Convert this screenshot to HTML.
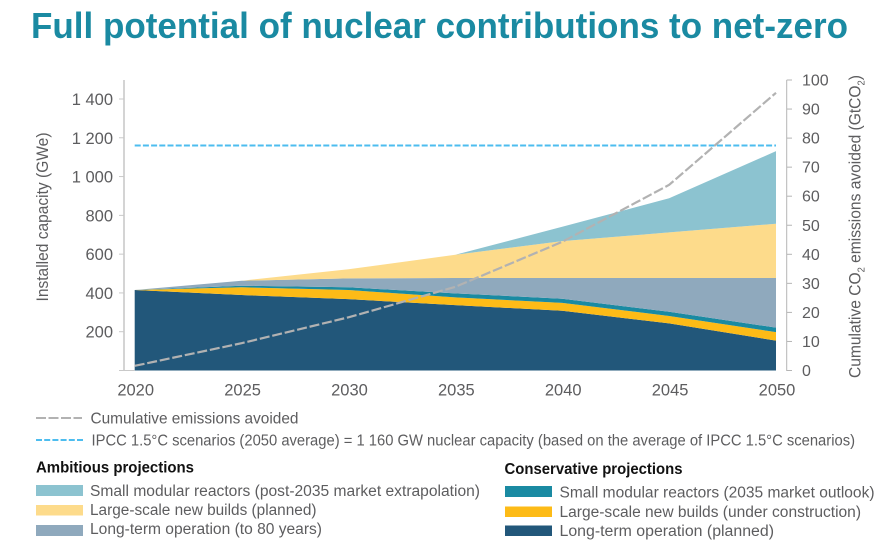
<!DOCTYPE html>
<html lang="en">
<head>
<meta charset="utf-8">
<title>Full potential of nuclear contributions to net-zero</title>
<style>
html,body{margin:0;padding:0;background:#fff;width:890px;height:554px;overflow:hidden}
svg{display:block}
text{font-family:"Liberation Sans",sans-serif;fill:#5d5d5f}
</style>
</head>
<body>
<svg id="chart" xmlns="http://www.w3.org/2000/svg" width="890" height="554" viewBox="0 0 890 554">
  <text x="31" y="38" font-size="36" font-weight="700" style="fill:#1a8aa2" textLength="817" lengthAdjust="spacingAndGlyphs">Full potential of nuclear contributions to net-zero</text>
  <g id="areas"></g>
  <g id="lines"></g>
  <g id="axes"></g>
  <text transform="translate(48,301.5) rotate(-90)" font-size="16.5" textLength="169" lengthAdjust="spacingAndGlyphs">Installed capacity (GWe)</text>
  <text transform="translate(860.5,378) rotate(-90)" font-size="16.5" textLength="303" lengthAdjust="spacingAndGlyphs">Cumulative CO<tspan font-size="10" dy="4">2</tspan><tspan dy="-4"> emissions avoided (GtCO</tspan><tspan font-size="10" dy="4">2</tspan><tspan dy="-4">)</tspan></text>

  <g font-size="15.5">
    <line x1="36" x2="82" y1="418" y2="418" stroke="#b2b2b2" stroke-width="2" stroke-dasharray="10 2.5"/>
    <text x="90.5" y="423.5" textLength="208" lengthAdjust="spacingAndGlyphs">Cumulative emissions avoided</text>
    <line x1="36" x2="83" y1="440" y2="440" stroke="#4dbdef" stroke-width="2" stroke-dasharray="6 2.2"/>
    <text x="91.5" y="445.5" textLength="763.5" lengthAdjust="spacingAndGlyphs">IPCC 1.5°C scenarios (2050 average) = 1 160 GW nuclear capacity (based on the average of IPCC 1.5°C scenarios)</text>

    <text x="36" y="472.5" font-weight="700" style="fill:#111" textLength="158" lengthAdjust="spacingAndGlyphs">Ambitious projections</text>
    <rect x="36" y="485" width="47" height="11" fill="#8cc3d0"/>
    <text x="90" y="496" textLength="390" lengthAdjust="spacingAndGlyphs">Small modular reactors (post-2035 market extrapolation)</text>
    <rect x="36" y="505" width="47" height="10.5" fill="#fddb8b"/>
    <text x="90" y="515" textLength="226.5" lengthAdjust="spacingAndGlyphs">Large-scale new builds (planned)</text>
    <rect x="36" y="525" width="47" height="11" fill="#8fa9bd"/>
    <text x="90" y="534" textLength="232" lengthAdjust="spacingAndGlyphs">Long-term operation (to 80 years)</text>

    <text x="504.5" y="474" font-weight="700" style="fill:#111" textLength="178" lengthAdjust="spacingAndGlyphs">Conservative projections</text>
    <rect x="505" y="486" width="47" height="11" fill="#1a8aa2"/>
    <text x="559.5" y="497.5" textLength="315" lengthAdjust="spacingAndGlyphs">Small modular reactors (2035 market outlook)</text>
    <rect x="505" y="506.5" width="47" height="10.5" fill="#fdbb17"/>
    <text x="559.5" y="517" textLength="301.5" lengthAdjust="spacingAndGlyphs">Large-scale new builds (under construction)</text>
    <rect x="505" y="525.5" width="47" height="10.5" fill="#22577a"/>
    <text x="559.5" y="536" textLength="214.5" lengthAdjust="spacingAndGlyphs">Long-term operation (planned)</text>
  </g>
</svg>
<script>
// Chart data (GWe for stacked layers, GtCO2 for cumulative emissions)
const years = [2020, 2025, 2030, 2035, 2040, 2045, 2050];
const ltoPlanned = [415, 389, 368, 337, 308, 243, 154];
const largeConstruction = [0, 40, 47, 40, 41, 38, 44];
const smrConservative = [0, 8, 14, 21, 21, 22, 23];
const lto80 = [0, 26, 46, 79, 107, 174, 256];
const largePlanned = [0, 0, 47, 120, 190, 235, 280];
const smrAmbitious = [0, 0, 0, 0, 74, 176, 374];
const emissionsAvoided = [1.6, 9.4, 18.3, 28.8, 44.3, 63.9, 95.6];
const ipccCapacity = [1160];
const leftTicks = [200, 400, 600, 800, 1000, 1200, 1400];
const leftTickLabels = ['200', '400', '600', '800', '1 000', '1 200', '1 400'];
const rightTicks = [0, 10, 20, 30, 40, 50, 60, 70, 80, 90, 100];

const SVGNS = 'http://www.w3.org/2000/svg';
const X0 = 134.7, X1 = 776, Y0 = 370.5;
const xScale = function (year) { return X0 + (year - years[0]) / (years[years.length - 1] - years[0]) * (X1 - X0); };
const yLeft = function (v) { return Y0 - v * (271.5 / 1400); };
const yRight = function (v) { return Y0 - v * (290.5 / 100); };

function make(tag, parent, attrs) {
  const el = document.createElementNS(SVGNS, tag);
  Object.keys(attrs).forEach(function (k) { el.setAttribute(k, attrs[k]); });
  parent.appendChild(el);
  return el;
}

// Stacked areas
const areasG = document.getElementById('areas');
const layers = [
  { name: 'area-lto-planned', values: ltoPlanned, color: '#22577a' },
  { name: 'area-large-construction', values: largeConstruction, color: '#fdbb17' },
  { name: 'area-smr-conservative', values: smrConservative, color: '#1a8aa2' },
  { name: 'area-lto-80', values: lto80, color: '#8fa9bd' },
  { name: 'area-large-planned', values: largePlanned, color: '#fddb8b' },
  { name: 'area-smr-ambitious', values: smrAmbitious, color: '#8cc3d0' }
];
const base = years.map(function () { return 0; });
layers.forEach(function (layer) {
  const top = base.map(function (b, i) { return b + layer.values[i]; });
  const pts = [];
  years.forEach(function (yr, i) { pts.push(xScale(yr).toFixed(2) + ',' + yLeft(top[i]).toFixed(2)); });
  for (let i = years.length - 1; i >= 0; i--) { pts.push(xScale(years[i]).toFixed(2) + ',' + yLeft(base[i]).toFixed(2)); }
  const poly = make('polygon', areasG, { points: pts.join(' '), fill: layer.color });
  
  
  top.forEach(function (t, i) { base[i] = t; });
});

// Lines
const linesG = document.getElementById('lines');
const ipccLine = make('line', linesG, {
  x1: xScale(years[0]), x2: xScale(years[years.length - 1]),
  y1: yLeft(ipccCapacity[0]), y2: yLeft(ipccCapacity[0]),
  stroke: '#4dbdef', 'stroke-width': 2, 'stroke-dasharray': '6 2.2'
});


const emissionsLine = make('polyline', linesG, {
  points: years.map(function (yr, i) { return xScale(yr).toFixed(2) + ',' + yRight(emissionsAvoided[i]).toFixed(2); }).join(' '),
  fill: 'none', stroke: '#b2b2b2', 'stroke-width': 2.2, 'stroke-dasharray': '10 2.8'
});



// Axes
const axesG = document.getElementById('axes');
const leftAxis = make('line', axesG, { x1: 124, x2: 124, y1: 80, y2: Y0 + 0.5, stroke: '#c9c9c9', 'stroke-width': 1.6 });


const rightAxis = make('line', axesG, { x1: 786.7, x2: 786.7, y1: 80, y2: Y0 + 0.5, stroke: '#b5b5b5', 'stroke-width': 1 });


const baseTick = make('line', axesG, { x1: 119, x2: 134.7, y1: Y0, y2: Y0, stroke: '#c9c9c9', 'stroke-width': 1 });



leftTicks.forEach(function (v, i) {
  const tick = make('line', axesG, { x1: 119, x2: 124, y1: yLeft(v), y2: yLeft(v), stroke: '#c9c9c9', 'stroke-width': 1 });
  
  
  const label = make('text', axesG, { x: 113, y: yLeft(v) + 6, 'text-anchor': 'end', 'font-size': 16.5 });
  
  
  label.textContent = leftTickLabels[i];
});
rightTicks.forEach(function (v) {
  const tick = make('line', axesG, { x1: 786.7, x2: 792, y1: yRight(v), y2: yRight(v), stroke: '#b5b5b5', 'stroke-width': 1 });
  
  
  const label = make('text', axesG, { x: 802, y: yRight(v) + 5.5, 'font-size': 16 });
  
  
  label.textContent = String(v);
});
years.forEach(function (yr) {
  const label = make('text', axesG, { x: xScale(yr) + 1, y: 395.5, 'text-anchor': 'middle', 'font-size': 16.5 });
  
  
  label.textContent = String(yr);
});
</script>
</body>
</html>
